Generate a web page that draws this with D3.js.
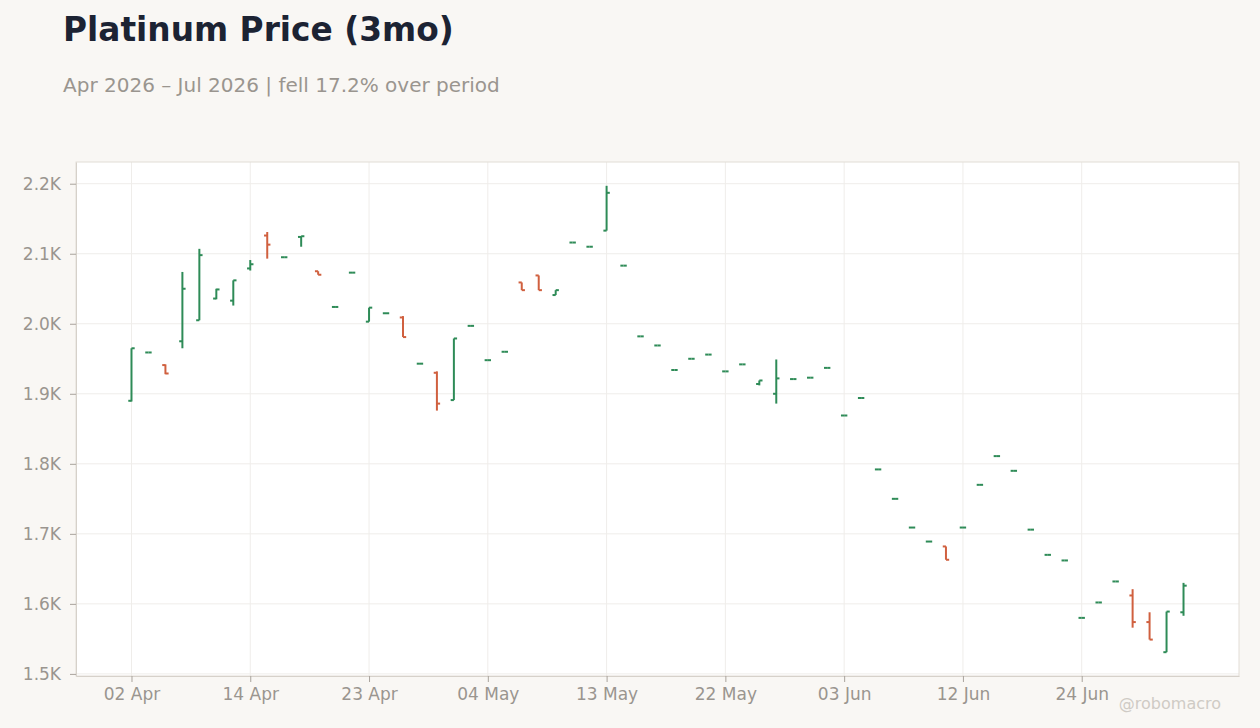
<!DOCTYPE html>
<html>
<head>
<meta charset="utf-8">
<script src="https://cdn.jsdelivr.net/npm/d3@7"></script>
<style>
    body { margin: 0; background: #f9f7f4; }
    text { font-family: "DejaVu Sans", sans-serif; }
</style>
</head>
<body>
<script>
// Trading days, Apr 2 - Jul 2 2026 (holidays skipped)
var dates = [
    "2026-04-02", "2026-04-06", "2026-04-07", "2026-04-08", "2026-04-09",
    "2026-04-10", "2026-04-13", "2026-04-14", "2026-04-15", "2026-04-16",
    "2026-04-17", "2026-04-20", "2026-04-21", "2026-04-22", "2026-04-23",
    "2026-04-24", "2026-04-27", "2026-04-28", "2026-04-29", "2026-04-30",
    "2026-05-01", "2026-05-04", "2026-05-05", "2026-05-06", "2026-05-07",
    "2026-05-08", "2026-05-11", "2026-05-12", "2026-05-13", "2026-05-14",
    "2026-05-15", "2026-05-18", "2026-05-19", "2026-05-20", "2026-05-21",
    "2026-05-22", "2026-05-26", "2026-05-27", "2026-05-28", "2026-05-29",
    "2026-06-01", "2026-06-02", "2026-06-03", "2026-06-04", "2026-06-05",
    "2026-06-08", "2026-06-09", "2026-06-10", "2026-06-11", "2026-06-12",
    "2026-06-15", "2026-06-16", "2026-06-17", "2026-06-18", "2026-06-22",
    "2026-06-23", "2026-06-24", "2026-06-25", "2026-06-26", "2026-06-29",
    "2026-06-30", "2026-07-01", "2026-07-02"
];

var open = [
    1890, 1959, 1941, 1975, 2005, 2036, 2033, 2079, 2126, 2095,
    2124, 2075, 2024, 2073, 2003, 2015, 2009, 1943, 1930, 1891,
    1997, 1948, 1960, 2059, 2069, 2041, 2116, 2110, 2133, 2083,
    1982, 1969, 1934, 1950, 1956, 1932, 1942, 1914, 1900, 1921,
    1923, 1937, 1869, 1894, 1792, 1750, 1709, 1689, 1682, 1709,
    1770, 1811, 1790, 1706, 1670, 1662, 1580, 1602, 1632, 1612,
    1574, 1531, 1588
];
var high = [
    1965, 1959, 1942, 2074, 2107, 2050, 2062, 2091, 2131, 2095,
    2125, 2075, 2024, 2073, 2023, 2015, 2011, 1943, 1932, 1979,
    1997, 1948, 1960, 2059, 2069, 2048, 2116, 2110, 2197, 2083,
    1982, 1969, 1934, 1950, 1956, 1932, 1942, 1919, 1949, 1921,
    1923, 1937, 1869, 1894, 1792, 1750, 1709, 1689, 1682, 1709,
    1770, 1811, 1790, 1706, 1670, 1662, 1580, 1602, 1632, 1621,
    1588, 1589, 1630
];
var low = [
    1889, 1959, 1928, 1965, 2005, 2035, 2026, 2076, 2093, 2095,
    2110, 2070, 2024, 2073, 2003, 2015, 1981, 1943, 1876, 1891,
    1997, 1948, 1960, 2048, 2048, 2041, 2116, 2110, 2133, 2083,
    1982, 1969, 1934, 1950, 1956, 1932, 1942, 1912, 1886, 1921,
    1923, 1937, 1869, 1894, 1792, 1750, 1709, 1689, 1663, 1709,
    1770, 1811, 1790, 1706, 1670, 1662, 1580, 1602, 1632, 1566,
    1549, 1531, 1583
];
var close = [
    1965, 1959, 1929, 2050, 2098, 2049, 2062, 2085, 2113, 2095,
    2125, 2070, 2024, 2073, 2023, 2015, 1981, 1943, 1886, 1979,
    1997, 1948, 1960, 2048, 2048, 2048, 2116, 2110, 2187, 2083,
    1982, 1969, 1934, 1950, 1956, 1932, 1942, 1919, 1922, 1921,
    1923, 1937, 1869, 1894, 1792, 1750, 1709, 1689, 1663, 1709,
    1770, 1811, 1790, 1706, 1670, 1662, 1580, 1602, 1632, 1574,
    1549, 1589, 1626
];

var yTicks = [1500, 1600, 1700, 1800, 1900, 2000, 2100, 2200];

var title = "Platinum Price (3mo)";
var subtitle = "Apr 2026 \u2013 Jul 2026 | fell 17.2% over period";

//Define the margins
var W = 1260, H = 728;
var margin = {top: 162, right: 21, bottom: 52, left: 76},
    width = W - margin.left - margin.right,
    height = H - margin.top - margin.bottom;

var parse = d3.timeParse("%Y-%m-%d");
var fmtDate = d3.timeFormat("%d %b");

var bars = dates.map(function(d, i) {
    return {date: d, o: open[i], h: high[i], l: low[i], c: close[i]};
});

var x = d3.scalePoint()
    .domain(dates)
    .range([0, width])
    .padding(3.27);

var y = d3.scaleLinear()
    .domain([1497, 2231])
    .range([height, 0]);

var svg = d3.select("body").append("svg")
    .attr("width", W)
    .attr("height", H);

svg.append("rect")
    .attr("width", W).attr("height", H)
    .attr("fill", "#f9f7f4");

svg.append("text")
    .attr("x", 63).attr("y", 41)
    .attr("font-size", 32.8).attr("font-weight", "bold")
    .attr("fill", "#1c2333")
    .text(title);

svg.append("text")
    .attr("x", 63).attr("y", 92)
    .attr("font-size", 20)
    .attr("fill", "#9a958f")
    .text(subtitle);

var g = svg.append("g")
    .attr("transform", "translate(" + margin.left + "," + margin.top + ")");

g.append("rect")
    .attr("width", width).attr("height", height)
    .attr("fill", "#ffffff");

//Gridlines
var xTickDates = dates.filter(function(d, i) { return i % 7 === 0; });

g.append("g").selectAll("line")
    .data(yTicks)
    .enter().append("line")
    .attr("x1", 0).attr("x2", width)
    .attr("y1", function(d) { return y(d); })
    .attr("y2", function(d) { return y(d); })
    .attr("stroke", "#efedea");

g.append("g").selectAll("line")
    .data(xTickDates)
    .enter().append("line")
    .attr("y1", 0).attr("y2", height)
    .attr("x1", function(d) { return x(d); })
    .attr("x2", function(d) { return x(d); })
    .attr("stroke", "#efedea");

g.append("rect")
    .attr("width", width).attr("height", height)
    .attr("fill", "none")
    .attr("stroke", "#e2ddd6");

//Axes
var yAxis = g.append("g")
    .call(d3.axisLeft(y)
        .tickValues(yTicks)
        .tickSize(6)
        .tickSizeOuter(0)
        .tickPadding(9)
        .tickFormat(function(d) { return (d / 1000).toFixed(1) + "K"; }));

var xAxis = g.append("g")
    .attr("transform", "translate(0," + height + ")")
    .call(d3.axisBottom(x)
        .tickValues(xTickDates)
        .tickSize(6)
        .tickSizeOuter(0)
        .tickPadding(6)
        .tickFormat(function(d) { return fmtDate(parse(d)); }));

[yAxis, xAxis].forEach(function(a) {
    a.select(".domain").attr("stroke", "#d6d1ca");
    a.selectAll(".tick line").attr("stroke", "#a9a39c");
    a.selectAll(".tick text")
        .attr("fill", "#9a958f")
        .attr("font-size", 17)
        .style("font-family", "DejaVu Sans, sans-serif");
});

//OHLC bars
var tick = 3.2;
var bar = g.append("g").selectAll("g")
    .data(bars)
    .enter().append("g")
    .attr("stroke", function(d) { return d.c >= d.o ? "#2e8b57" : "#d0603f"; })
    .attr("stroke-width", 2);

bar.append("line")
    .attr("x1", function(d) { return x(d.date); })
    .attr("x2", function(d) { return x(d.date); })
    .attr("y1", function(d) { return y(d.h); })
    .attr("y2", function(d) { return y(d.l); });

bar.append("line")
    .attr("x1", function(d) { return x(d.date) - tick; })
    .attr("x2", function(d) { return x(d.date); })
    .attr("y1", function(d) { return y(d.o); })
    .attr("y2", function(d) { return y(d.o); });

bar.append("line")
    .attr("x1", function(d) { return x(d.date); })
    .attr("x2", function(d) { return x(d.date) + tick; })
    .attr("y1", function(d) { return y(d.c); })
    .attr("y2", function(d) { return y(d.c); });

//Watermark
svg.append("text")
    .attr("x", 1221).attr("y", 709)
    .attr("text-anchor", "end")
    .attr("font-size", 16)
    .attr("fill", "#cfcbc5")
    .text("@robomacro");
</script>
</body>
</html>
